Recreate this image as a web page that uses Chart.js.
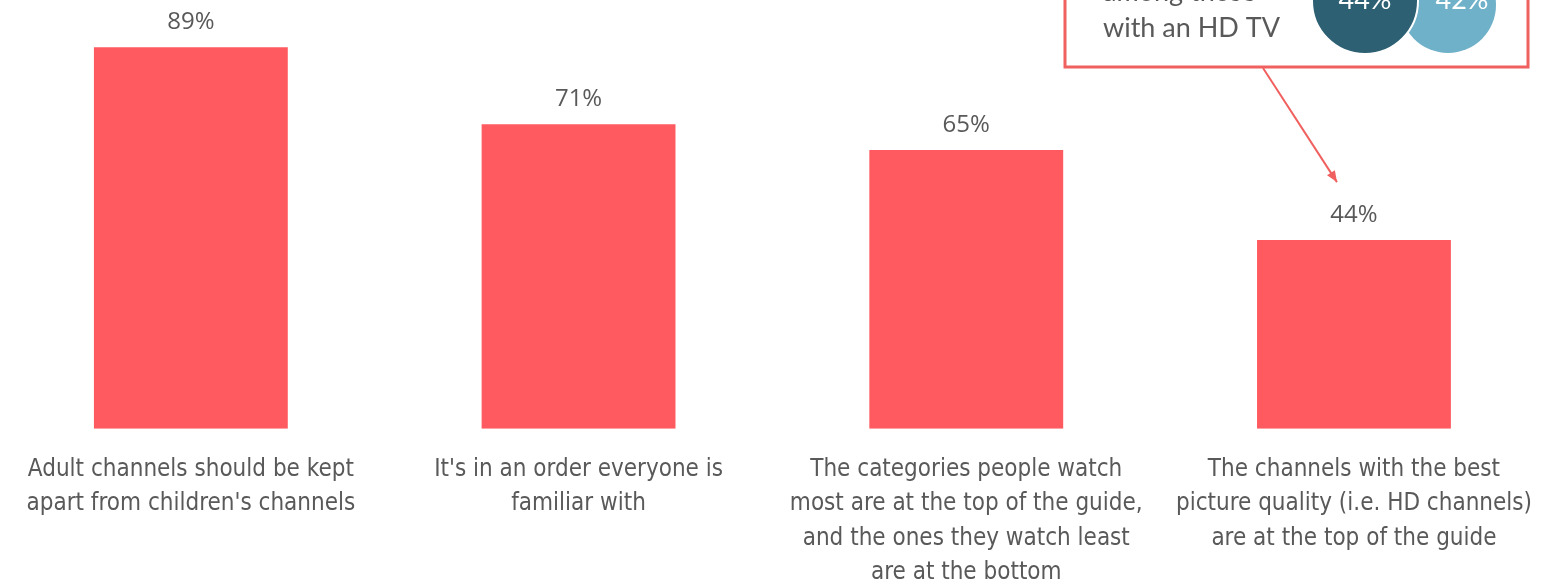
<!DOCTYPE html>
<html>
<head>
<meta charset="utf-8">
<script src="https://cdn.jsdelivr.net/npm/chart.js@4/dist/chart.umd.min.js"></script>
<style>
  html, body { margin: 0; padding: 0; background: #fff; overflow: hidden; }
  #wrap { width: 1559px; height: 583px; position: relative; left: -3px; }
</style>
</head>
<body>
<div id="wrap"><canvas id="c"></canvas></div>
<script>
// ── Data ───────────────────────────────────────────────
const categories = [
  ['Adult channels should be kept', "apart from children's channels"],
  ["It's in an order everyone is", 'familiar with'],
  ['The categories people watch', 'most are at the top of the guide,', 'and the ones they watch least', 'are at the bottom'],
  ['The channels with the best', 'picture quality (i.e. HD channels)', 'are at the top of the guide'],
];
const values = [89, 71, 65, 44];
const calloutLines = ['among those', 'with an HD TV'];
const calloutValues = [44, 42];

// ── Styles ─────────────────────────────────────────────
const C = {
  bar: '#FF5A5F',
  text: '#595959',
  box: '#F0605F',
  dark: '#2D6073',
  light: '#6FB1C8',
  font: '"Liberation Sans Narrow", "DejaVu Sans Condensed", sans-serif',
  callFont: 'Lato, "Open Sans", sans-serif',
};
const OX = 3; // canvas is shifted 3px left of the page

// value labels above bars
const valueLabels = {
  id: 'valueLabels',
  afterDatasetsDraw(chart) {
    const { ctx } = chart;
    const meta = chart.getDatasetMeta(0);
    ctx.save();
    ctx.fillStyle = C.text;
    ctx.font = '24px "Open Sans", sans-serif';
    ctx.textAlign = 'center';
    ctx.textBaseline = 'middle';
    meta.data.forEach((bar, i) => {
      ctx.fillText(values[i] + '%', bar.x, bar.y - 25);
    });
    ctx.restore();
  }
};

// callout box (top right) pointing at the last bar
const callout = {
  id: 'callout',
  afterDraw(chart) {
    const { ctx } = chart;
    const bar = chart.getDatasetMeta(0).data[3];
    ctx.save();
    ctx.translate(OX, 0);
    // box
    ctx.strokeStyle = C.box;
    ctx.lineWidth = 3;
    ctx.strokeRect(1065, -20, 463, 87);
    // text
    ctx.fillStyle = C.text;
    ctx.font = '27px ' + C.callFont;
    ctx.textAlign = 'left';
    ctx.textBaseline = 'middle';
    ctx.fillText(calloutLines[0], 1103, -8);
    ctx.fillText(calloutLines[1], 1103, 28);
    // circles
    ctx.fillStyle = C.light;
    ctx.beginPath(); ctx.arc(1448, 5, 48, 0, Math.PI * 2); ctx.fill();
    ctx.fillStyle = C.dark;
    ctx.strokeStyle = '#fff';
    ctx.lineWidth = 2;
    ctx.beginPath(); ctx.arc(1365, 1, 53, 0, Math.PI * 2); ctx.fill(); ctx.stroke();
    ctx.fillStyle = '#fff';
    ctx.textAlign = 'center';
    ctx.font = '27px ' + C.callFont;
    ctx.fillText(calloutValues[0] + '%', 1365, 0);
    ctx.fillText(calloutValues[1] + '%', 1462, 0);
    // arrow
    const x0 = 1263, y0 = 68, x1 = bar.x - OX - 17, y1 = bar.y - 58;
    ctx.strokeStyle = C.box;
    ctx.fillStyle = C.box;
    ctx.lineWidth = 2;
    ctx.beginPath(); ctx.moveTo(x0, y0); ctx.lineTo(x1, y1); ctx.stroke();
    const a = Math.atan2(y1 - y0, x1 - x0);
    ctx.beginPath();
    ctx.moveTo(x1, y1);
    ctx.lineTo(x1 - 12 * Math.cos(a - 0.4), y1 - 12 * Math.sin(a - 0.4));
    ctx.lineTo(x1 - 12 * Math.cos(a + 0.4), y1 - 12 * Math.sin(a + 0.4));
    ctx.closePath(); ctx.fill();
    ctx.restore();
  }
};

new Chart(document.getElementById('c'), {
  type: 'bar',
  data: {
    labels: categories,
    datasets: [{ data: values, backgroundColor: C.bar, barPercentage: 0.5, categoryPercentage: 1 }]
  },
  options: {
    responsive: true, maintainAspectRatio: false, animation: false,
    layout: { padding: { top: 0, left: 0, right: 0, bottom: -31 } },
    plugins: { legend: { display: false }, tooltip: { enabled: false } },
    scales: {
      x: {
        grid: { display: false, drawTicks: false, tickLength: 0 }, border: { display: false },
        ticks: { color: C.text, padding: 24, maxRotation: 0, autoSkip: false,
                 font: { family: C.font, size: 24, lineHeight: 1.43 } }
      },
      y: { display: false, min: 0, max: 100 }
    }
  },
  plugins: [valueLabels, callout]
});
</script>
</body>
</html>
